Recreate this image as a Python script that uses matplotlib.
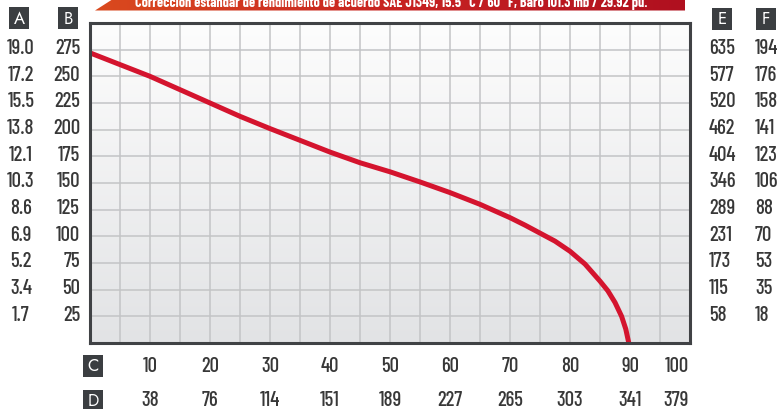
import numpy as np
import matplotlib
matplotlib.use('Agg')
import matplotlib.pyplot as plt
import matplotlib.patches as patches
from matplotlib import font_manager
from matplotlib.colors import LinearSegmentedColormap
from matplotlib.transforms import blended_transform_factory

# curve (x in C units, y in B units)
curve_x = [0, 5, 10, 15, 20, 25, 30, 35, 40, 45, 50, 55, 60, 65, 70, 72.5, 75, 77.5, 80, 82.5, 85, 86.3, 87.5, 88.6, 89.3, 89.8]
curve_y = [272, 261, 250, 237.5, 225, 212.5, 201, 190, 179, 169, 160.5, 151, 141, 130, 117.5, 110.5, 103, 95.5, 86, 74, 58, 49, 38, 25, 13, 0]

# scale columns
b_ticks = [275, 250, 225, 200, 175, 150, 125, 100, 75, 50, 25]
a_labels = ['19.0', '17.2', '15.5', '13.8', '12.1', '10.3', '8.6', '6.9', '5.2', '3.4', '1.7']
e_labels = ['635', '577', '520', '462', '404', '346', '289', '231', '173', '115', '58']
f_labels = ['194', '176', '158', '141', '123', '106', '88', '70', '53', '35', '18']
c_ticks = [10, 20, 30, 40, 50, 60, 70, 80, 90, 100]
d_labels = ['38', '76', '114', '151', '189', '227', '265', '303', '341', '379']

title = 'Corrección estándar de rendimiento de acuerdo SAE J1349, 15.5 °C / 60 °F, Baro 101.3 mb / 29.92 pu.'


def pick(prefs):
    have = set(f.name for f in font_manager.fontManager.ttflist)
    for p in prefs:
        if p in have:
            return [p, 'DejaVu Sans']
    return ['DejaVu Sans']


W, H = 779, 410
num_font = pick(['Barlow Condensed', 'Roboto Condensed', 'Archivo Narrow', 'PT Sans Narrow',
                 'Encode Sans Condensed', 'IBM Plex Sans Condensed', 'Abel'])
head_font = pick(['Barlow Condensed', 'Roboto Condensed', 'IBM Plex Sans Condensed'])
badge_font = pick(['Jost', 'Questrial', 'Lato'])
txt_col = '#383838'
box_col = '#3b3e41'
fs = 15

fig = plt.figure(figsize=(W / 100, H / 100), dpi=100)
ax = fig.add_axes([90 / W, 1 - 344 / H, 600 / W, 320 / H])
ax.set_xlim(0, 100)
ax.set_ylim(0, 300)

# background gradient
grad = np.linspace(1, 0, 256).reshape(-1, 1)
bg_cmap = LinearSegmentedColormap.from_list('bg', ['#e2e3e5', '#fdfdfd'])
ax.imshow(grad, extent=[0, 100, 0, 300], aspect='auto', cmap=bg_cmap, zorder=0, origin='upper')

for gx in np.arange(5, 100, 5):
    ax.axvline(gx, color='#c3c4c6', lw=1.1, zorder=1)
for gy in np.arange(25, 300, 25):
    ax.axhline(gy, color='#c3c4c6', lw=1.1, zorder=1)

ax.plot(curve_x, curve_y, color='#d4142e', lw=3.6, solid_capstyle='butt',
        solid_joinstyle='round', zorder=3)

ax.set_xticks([])
ax.set_yticks([])
for s in ax.spines.values():
    s.set_color('#404245')
    s.set_linewidth(2.2)
    s.set_zorder(4)

# side columns
tr_y = blended_transform_factory(fig.transFigure, ax.transData)
for yv, a, e, f in zip(b_ticks, a_labels, e_labels, f_labels):
    fig.text(21 / W, yv + 2, a, transform=tr_y, ha='center', va='center',
             fontsize=fs, fontweight='medium', color=txt_col, family=num_font)
    fig.text(80 / W, yv + 2, str(yv), transform=tr_y, ha='right', va='center',
             fontsize=fs, fontweight='medium', color=txt_col, family=num_font)
    fig.text(709 / W, yv + 2, e, transform=tr_y, ha='left', va='center',
             fontsize=fs, fontweight='medium', color=txt_col, family=num_font)
    fig.text(755 / W, yv + 2, f, transform=tr_y, ha='left', va='center',
             fontsize=fs, fontweight='medium', color=txt_col, family=num_font)

# bottom rows
tr_x = blended_transform_factory(ax.transData, fig.transFigure)
for xv, d in zip(c_ticks, d_labels):
    ha = 'right' if xv == 100 else 'center'
    xx = xv - 0.2 if xv == 100 else xv
    fig.text(xx, 1 - 367 / H, str(xv), transform=tr_x, ha=ha, va='center',
             fontsize=fs, fontweight='medium', color=txt_col, family=num_font)
    fig.text(xx, 1 - 401 / H, d, transform=tr_x, ha=ha, va='center',
             fontsize=fs, fontweight='medium', color=txt_col, family=num_font)

# letter badges
badges = [('A', 9, 8), ('B', 58, 8), ('E', 712, 9), ('F', 756, 9), ('C', 83, 356), ('D', 83, 391)]
for letter, px, py in badges:
    fig.patches.append(patches.Rectangle((px / W, 1 - (py + 22) / H), 20 / W, 22 / H,
                                         transform=fig.transFigure, facecolor=box_col,
                                         edgecolor='none', zorder=5))
    fig.text((px + 10) / W, 1 - (py + 11) / H, letter, ha='center', va='center',
             fontsize=12, color='white', family=badge_font, zorder=6)

# title banner with gradient
bax = fig.add_axes([95 / W, 1 - 11.5 / H, 590 / W, 11.5 / H])
bax.set_xlim(0, 590)
bax.set_ylim(0, 11.5)
bax.axis('off')
ban_cmap = LinearSegmentedColormap.from_list('ban', ['#da4a1e', '#c82322', '#b0101f'])
img = bax.imshow(np.linspace(0, 1, 256).reshape(1, -1), extent=[0, 590, 0, 11.5],
                 aspect='auto', cmap=ban_cmap)
clip = patches.Polygon([[0, 0], [18, 11.5], [590, 11.5], [590, 0]], closed=True,
                       transform=bax.transData, facecolor='none', edgecolor='none')
bax.add_patch(clip)
img.set_clip_path(clip)
fig.text(391 / W, 1 - 7.5 / H, title, ha='center', va='baseline', fontsize=10.2,
         fontweight='bold', color='white', family=head_font, zorder=7)

fig.savefig('out.png', dpi=100)
